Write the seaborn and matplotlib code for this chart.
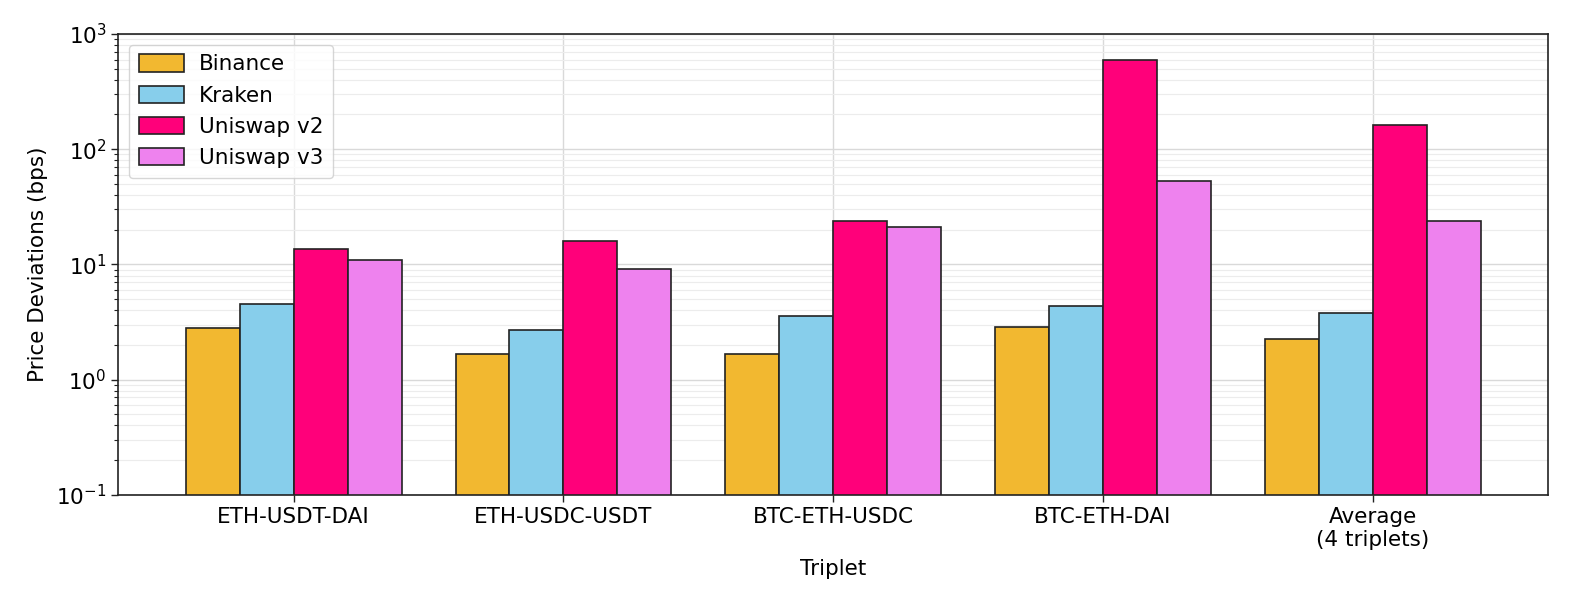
import matplotlib
matplotlib.use("Agg")
import matplotlib.pyplot as plt
import seaborn as sns
import pandas as pd
import numpy as np
from matplotlib.ticker import LogLocator

triplets = ["ETH-USDT-DAI", "ETH-USDC-USDT", "BTC-ETH-USDC", "BTC-ETH-DAI", "Average\n(4 triplets)"]
binance = [2.82, 1.66, 1.68, 2.85, 2.25]
kraken = [4.5, 2.7, 3.55, 4.36, 3.77]
uniswap_v2 = [13.5, 15.9, 23.8, 598, 162]
uniswap_v3 = [10.9, 9.2, 21.3, 53, 23.7]
venues = ["Binance", "Kraken", "Uniswap v2", "Uniswap v3"]
colors = ["#F2B830", "#87CEEB", "#FF007A", "#EE82EE"]

rows = []
for venue, vals in zip(venues, [binance, kraken, uniswap_v2, uniswap_v3]):
    for t, v in zip(triplets, vals):
        rows.append({"Triplet": t, "Venue": venue, "Value": v})
df = pd.DataFrame(rows)

sns.set_style("white")
plt.rcParams['font.family'] = ['DejaVu Sans']
plt.rcParams['text.color'] = 'black'
plt.rcParams['axes.labelcolor'] = 'black'
plt.rcParams['xtick.color'] = 'black'
plt.rcParams['ytick.color'] = 'black'

fig, ax = plt.subplots(figsize=(15.78, 6.07), dpi=100)
fig.subplots_adjust(left=0.075, right=0.981, top=0.944, bottom=0.185)

sns.barplot(data=df, x="Triplet", y="Value", hue="Venue", hue_order=venues,
            order=triplets, palette=colors, edgecolor="#222222", linewidth=1.2,
            width=0.8, saturation=1, ax=ax)
ax.set_yscale("log")
ax.set_ylim(0.1, 1000)
ax.set_xlim(-0.65, 4.65)
ax.yaxis.set_major_locator(LogLocator(base=10, numticks=10))
ax.yaxis.set_minor_locator(LogLocator(base=10, subs=np.arange(2, 10), numticks=20))
ax.set_axisbelow(True)
ax.grid(True, which="major", color="#d9d9d9", linewidth=1.0)
ax.grid(True, which="minor", axis="y", color="#ececec", linewidth=0.8)
for s in ax.spines.values():
    s.set_visible(True)
    s.set_color("#222222")
    s.set_linewidth(1.2)
ax.tick_params(axis="both", which="major", labelsize=15.5, length=5, width=1, direction="out",
               left=True, bottom=True, colors="#222222", labelcolor="black")
ax.tick_params(axis="y", which="minor", length=3, width=0.8, left=True, colors="#222222")
ax.set_xlabel("Triplet", fontsize=15.5, labelpad=7, color="black")
ax.set_ylabel("Price Deviations (bps)", fontsize=15.5, labelpad=6, color="black")

leg = ax.legend(loc="upper left", fontsize=15.5, handlelength=2.1, handleheight=0.85,
                frameon=True, borderpad=0.45, labelspacing=0.52, handletextpad=0.7,
                title=None)
leg.get_frame().set_edgecolor("#cccccc")
for txt in leg.get_texts():
    txt.set_color("black")

fig.savefig("out.png", dpi=100)
